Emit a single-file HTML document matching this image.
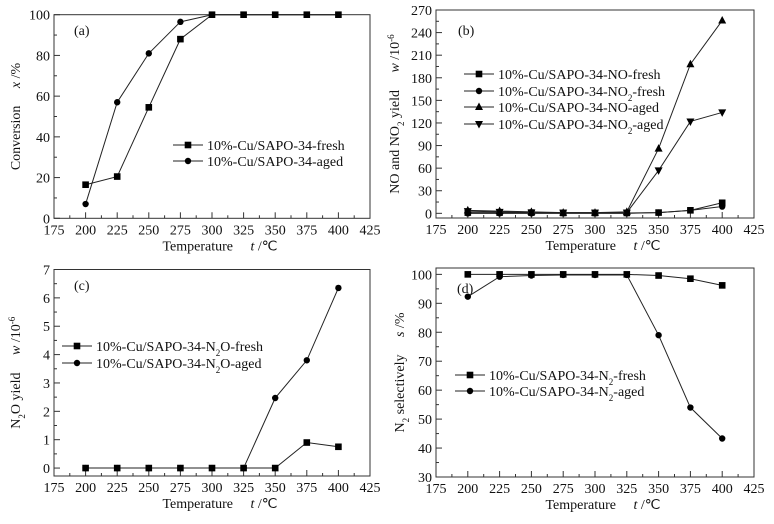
<!DOCTYPE html>
<html><head><meta charset="utf-8"><style>
html,body{margin:0;padding:0;background:#fff;}
svg{display:block;font-family:"Liberation Serif",serif;}
</style></head><body>
<svg id="fig" width="774" height="524" viewBox="0 0 774 524" xmlns="http://www.w3.org/2000/svg"></svg>
<script>
const temps=[200,225,250,275,300,325,350,375,400];
const xTicks=[175,200,225,250,275,300,325,350,375,400,425];
// panel a
const aFresh=[16.5,20.5,54.5,88,100,100,100,100,100];
const aAged=[7,57,81,96.5,100,100,100,100,100];
const aTicks=[0,20,40,60,80,100];
// panel b
const bNOFresh=[1,1,1,0.5,0.5,0.5,1,4,14];
const bNO2Fresh=[0,0,0,0,0,0,1,4,9];
const bNOAged=[4,3,2,1,1,2,86,198,256];
const bNO2Aged=[3,2,1,1,1,1,57,122,134];
const bTicks=[0,30,60,90,120,150,180,210,240,270];
// panel c
const cFresh=[0,0,0,0,0,0,0,0.9,0.75];
const cAged=[0,0,0,0,0,0,2.47,3.8,6.35];
const cTicks=[0,1,2,3,4,5,6,7];
// panel d
const dFresh=[100,100,100,100,100,100,99.6,98.5,96.2];
const dAged=[92.3,99.2,99.6,99.8,99.8,99.8,79,54,43.3];
const dTicks=[30,40,50,60,70,80,90,100];

const NS="http://www.w3.org/2000/svg";
const fig=document.getElementById('fig');
function mk(tag,attrs,parent,txt){const e=document.createElementNS(NS,tag);for(const k in attrs)e.setAttribute(k,attrs[k]);if(txt!==undefined)e.textContent=txt;(parent||fig).appendChild(e);return e;}
function marker(g,type,x,y){
  let e;
  if(type==='sq'){e=mk('rect',{x:x-3.3,y:y-3.3,width:6.6,height:6.6,fill:'#000'},g);}
  else if(type==='ci'){e=mk('circle',{cx:x,cy:y,r:3.2,fill:'#000'},g);}
  else if(type==='up'){e=mk('polygon',{points:`${x},${y-4.5} ${x-4},${y+3} ${x+4},${y+3}`,fill:'#000'},g);}
  else {e=mk('polygon',{points:`${x},${y+4.5} ${x-4},${y-3} ${x+4},${y-3}`,fill:'#000'},g);}
  return e;
}
function panel(p){
  const g=mk('g',{});
  
  
  const L=p.L,R=p.R,T=p.T,B=p.B;
  const sx=v=>L+(v-175)/(425-175)*(R-L);
  const sy=v=>B-(v-p.ymin)/(p.ymax-p.ymin)*(B-T);
  const fr=mk('rect',{x:L,y:T,width:R-L,height:B-T,fill:'none',stroke:'#333','stroke-width':1},g);
  
  xTicks.forEach((t,i)=>{
    const x=sx(t);
    mk('line',{x1:x,y1:B,x2:x,y2:B-6,stroke:'#333'},g);
    if(i<xTicks.length-1){const xm=sx(t+12.5);mk('line',{x1:xm,y1:B,x2:xm,y2:B-3,stroke:'#333'},g);}
    const tl=mk('text',{x:x,y:B+16,'font-size':14,'text-anchor':'middle',fill:'#111'},g,t);
    
  });
  const step=p.ticks[1]-p.ticks[0];
  p.ticks.forEach((t,i)=>{
    const y=sy(t);
    mk('line',{x1:L,y1:y,x2:L+6,y2:y,stroke:'#333'},g);
    if(i<p.ticks.length-1){const ym=sy(t+step/2);mk('line',{x1:L,y1:ym,x2:L+3,y2:ym,stroke:'#333'},g);}
    const tl=mk('text',{x:L-4,y:y+5,'font-size':14,'text-anchor':'end',fill:'#111'},g,t);
    
  });
  const xt=mk('text',{x:(L+R)/2+8,y:B+32,'font-size':14,'text-anchor':'middle',fill:'#111'},g);
  
  xt.innerHTML='Temperature\u00a0\u00a0\u00a0\u00a0\u00a0<tspan font-style="italic">t</tspan> /℃';
  const yt=mk('text',{transform:`translate(${p.ylx},${(T+B)/2}) rotate(-90)`,'font-size':14,'text-anchor':'middle',fill:'#111'},g);
  
  yt.innerHTML=p.ylabel;
  const pl=mk('text',{x:p.lab[0],y:p.lab[1],'font-size':14,fill:'#111'},g,'('+p.id+')');
  
  p.series.forEach((s,si)=>{
    const pts=temps.map((t,i)=>[sx(t),sy(s.data[i])]);
    const ln=mk('polyline',{points:pts.map(q=>q.join(',')).join(' '),fill:'none',stroke:'#222','stroke-width':1},g);
    
    pts.forEach(q=>{const m=marker(g,s.m,q[0],q[1]);});
    const ly=p.leg[2][si];
    const lg=mk('g',{},g);
    
    mk('line',{x1:p.leg[0],y1:ly,x2:p.leg[0]+30,y2:ly,stroke:'#222'},lg);
    marker(lg,s.m,p.leg[0]+15,ly);
    const lt=mk('text',{x:p.leg[0]+34,y:ly+5,'font-size':14,fill:'#111'},lg);
    lt.innerHTML=s.name;
  });
}
const sub=v=>`<tspan baseline-shift="sub" font-size="9">${v}</tspan>`;
panel({id:'a',L:54,R:370,T:14.7,B:218.3,ymin:0,ymax:100,ticks:aTicks,ylx:20,lab:[74,35],
  ylabel:'Conversion\u00a0\u00a0\u00a0\u00a0\u00a0<tspan font-style="italic">x</tspan> /%',
  leg:[173,0,[145,161]],
  series:[{data:aFresh,m:'sq',name:'10%-Cu/SAPO-34-fresh'},{data:aAged,m:'ci',name:'10%-Cu/SAPO-34-aged'}]});
panel({id:'b',L:436,R:754,T:10,B:218,ymin:-6.2,ymax:270,ticks:bTicks,ylx:399,lab:[458,35],
  ylabel:'NO and NO'+sub(2)+' yield\u00a0\u00a0\u00a0\u00a0\u00a0<tspan font-style="italic">w</tspan> /10<tspan baseline-shift="super" font-size="9">-6</tspan>',
  leg:[464,0,[74,91,107,124]],
  series:[{data:bNOFresh,m:'sq',name:'10%-Cu/SAPO-34-NO-fresh'},{data:bNO2Fresh,m:'ci',name:'10%-Cu/SAPO-34-NO'+sub(2)+'-fresh'},
          {data:bNOAged,m:'up',name:'10%-Cu/SAPO-34-NO-aged'},{data:bNO2Aged,m:'dn',name:'10%-Cu/SAPO-34-NO'+sub(2)+'-aged'}]});
panel({id:'c',L:54,R:370,T:269.5,B:476,ymin:-0.28,ymax:7,ticks:cTicks,ylx:20,lab:[74,290],
  ylabel:'N'+sub(2)+'O yield\u00a0\u00a0\u00a0\u00a0\u00a0<tspan font-style="italic">w</tspan> /10<tspan baseline-shift="super" font-size="9">-6</tspan>',
  leg:[62,0,[346,363]],
  series:[{data:cFresh,m:'sq',name:'10%-Cu/SAPO-34-N'+sub(2)+'O-fresh'},{data:cAged,m:'ci',name:'10%-Cu/SAPO-34-N'+sub(2)+'O-aged'}]});
panel({id:'d',L:436,R:754,T:268,B:477,ymin:30,ymax:102.2,ticks:dTicks,ylx:404,lab:[457,293],
  ylabel:'N'+sub(2)+' selectively\u00a0\u00a0\u00a0\u00a0\u00a0<tspan font-style="italic">s</tspan> /%',
  leg:[455,0,[375,391]],
  series:[{data:dFresh,m:'sq',name:'10%-Cu/SAPO-34-N'+sub(2)+'-fresh'},{data:dAged,m:'ci',name:'10%-Cu/SAPO-34-N'+sub(2)+'-aged'}]});
</script>
</body></html>
